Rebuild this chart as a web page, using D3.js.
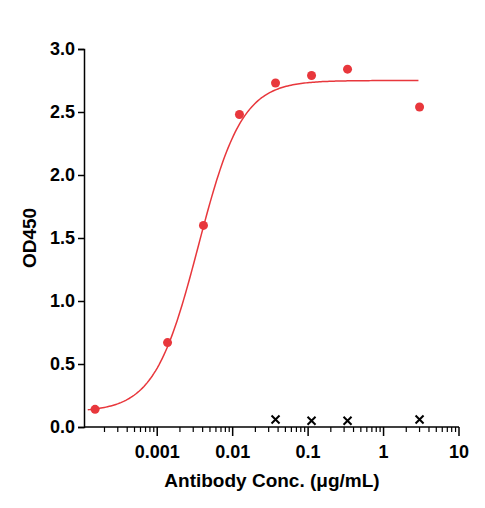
<!DOCTYPE html>
<html><head><meta charset="utf-8">
<script src="https://cdn.jsdelivr.net/npm/d3@7"></script>
<style>body{margin:0;background:#fff}text{font-family:Arial,"Liberation Sans",sans-serif;font-weight:bold}</style>
</head><body><svg id="c" width="485" height="508"></svg>
<script>
// measured points
const conc = [0.00015, 0.00137, 0.0041, 0.0123, 0.037, 0.111, 0.333, 3];
const od = [0.14, 0.67, 1.60, 2.48, 2.73, 2.79, 2.84, 2.54];
// blank / control
const ctrlConc = [0.037, 0.111, 0.333, 3];
const ctrlOd = [0.06, 0.05, 0.05, 0.06];
// 4PL fit parameters
const fitBottom = 0.12, fitTop = 2.75, fitEC50 = 0.0035, fitHill = 1.5;
const fitRange = [0.00012, 2.9];
const xTickLabels = [0.001, 0.01, 0.1, 1, 10];
const yTicks = [0, 0.5, 1, 1.5, 2, 2.5, 3];

const svg = d3.select("#c");
const x = d3.scaleLog().domain([0.000107, 10]).range([84, 459]);
const y = d3.scaleLinear().domain([0, 3]).range([427, 49]);
const red = "#e8373c";

// y axis
const ya = svg.append("g").attr("transform", "translate(84,0)")
  .call(d3.axisLeft(y).tickValues(yTicks).tickFormat(d3.format(".1f")).tickSize(6));
ya.selectAll("text").attr("font-size", 18).attr("fill", "#000");
ya.selectAll("line,path").attr("stroke", "#000").attr("stroke-width", 1.5);

// x axis with minor ticks
const minor = [];
for (let e = -4; e < 1; e++) for (let k = 1; k < 10; k++) {
  const v = k * Math.pow(10, e);
  if (v >= 0.000107 && !xTickLabels.includes(+v.toPrecision(3))) minor.push(v);
}
const xg = svg.append("g").attr("transform", "translate(0,427)");
xg.append("line").attr("x1", 84).attr("x2", 459).attr("stroke", "#000").attr("stroke-width", 1.5);
xg.selectAll(".mn").data(minor).enter().append("line")
  .attr("x1", d => x(d)).attr("x2", d => x(d)).attr("y2", 5).attr("stroke", "#000").attr("stroke-width", 1.2);
xg.selectAll(".mj").data(xTickLabels).enter().append("line")
  .attr("x1", d => x(d)).attr("x2", d => x(d)).attr("y2", 9).attr("stroke", "#000").attr("stroke-width", 1.5);
xg.selectAll(".lb").data(xTickLabels).enter().append("text")
  .attr("x", d => x(d)).attr("y", 31).attr("text-anchor", "middle").attr("font-size", 18)
  .text(d => String(d));

// titles
svg.append("text").attr("x", 272).attr("y", 487).attr("text-anchor", "middle").attr("font-size", 19)
  .text("Antibody Conc. (μg/mL)");
svg.append("text").attr("transform", "translate(36,238) rotate(-90)").attr("text-anchor", "middle")
  .attr("font-size", 19).text("OD450");

// fitted curve
const fit = c => fitBottom + (fitTop - fitBottom) / (1 + Math.pow(fitEC50 / c, fitHill));
const xs = d3.range(0, 201).map(i => Math.pow(10, Math.log10(fitRange[0]) + i / 200 * (Math.log10(fitRange[1]) - Math.log10(fitRange[0]))));
svg.append("path").datum(xs).attr("fill", "none").attr("stroke", red).attr("stroke-width", 1.5)
  .attr("d", d3.line().x(d => x(d)).y(d => y(fit(d))));

svg.selectAll(".pt").data(conc).enter().append("circle")
  .attr("cx", d => x(d)).attr("cy", (d, i) => y(od[i])).attr("r", 4.5).attr("fill", red);

const cr = 4;
svg.selectAll(".cx").data(ctrlConc).enter().append("path")
  .attr("transform", (d, i) => `translate(${x(d)},${y(ctrlOd[i])})`)
  .attr("d", `M${-cr},${-cr}L${cr},${cr}M${-cr},${cr}L${cr},${-cr}`)
  .attr("stroke", "#000").attr("stroke-width", 2);
</script></body></html>
